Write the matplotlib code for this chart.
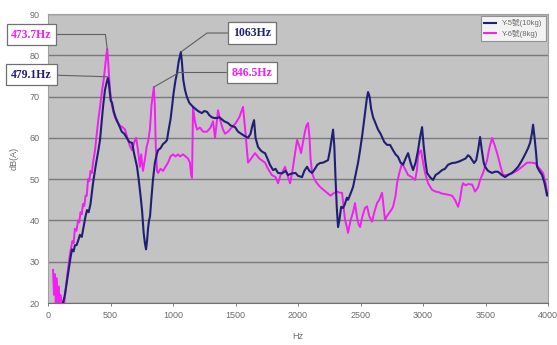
import numpy as np
import matplotlib
matplotlib.use("Agg")
import matplotlib.pyplot as plt

plt.rcParams['font.family'] = ['Liberation Sans', 'Noto Sans CJK TC', 'DejaVu Sans']

# --- data (Hz, dB(A)) ---
y5_points = [
    (120, 20), (135, 22), (150, 25), (165, 28), (180, 31), (192, 33), (205, 32.5), (215, 34),
    (228, 34), (240, 35), (255, 36.5), (270, 36), (285, 38.5), (300, 41), (312, 42.5), (325, 42),
    (340, 44), (360, 49), (380, 53), (400, 56.5), (416, 59.5), (430, 64), (440, 67.5), (455, 71.5),
    (466, 73), (479, 74.5), (486, 73.5), (494, 71), (502, 69), (512, 68.5), (525, 66.5), (540, 65),
    (560, 63.6), (575, 62.5), (590, 61.5), (610, 61), (630, 60), (650, 59), (672, 58.8), (690, 56),
    (712, 53), (725, 50), (740, 46), (752, 42.5), (765, 37), (775, 34.5), (784, 33), (792, 35),
    (800, 38), (808, 40), (816, 41), (826, 45), (840, 50), (855, 54), (870, 56), (880, 57),
    (900, 57.5), (920, 58.5), (940, 59), (952, 59.5), (965, 62), (980, 64.5), (992, 67.5),
    (1005, 71), (1020, 74), (1032, 75.7), (1045, 78.5), (1063, 80.8), (1072, 78), (1082, 74),
    (1096, 71.6), (1110, 70), (1130, 68.5), (1160, 67.5), (1180, 67), (1200, 66.5), (1230, 66),
    (1250, 66.5), (1272, 66.3), (1290, 65.5), (1310, 65), (1330, 64.8), (1352, 64.8), (1370, 65),
    (1390, 64.5), (1410, 64), (1440, 63.6), (1460, 63), (1480, 62.8), (1496, 62.6), (1520, 61.5),
    (1545, 61), (1570, 60.5), (1600, 60), (1620, 61), (1635, 63), (1648, 64.3), (1660, 60),
    (1680, 57.8), (1700, 57), (1720, 56.5), (1736, 56.3), (1755, 55), (1775, 53.5), (1800, 52.2),
    (1820, 52.5), (1840, 51.5), (1872, 51.4), (1900, 52), (1920, 51), (1952, 51.4), (1980, 51.5),
    (2000, 50.8), (2032, 50.5), (2050, 52), (2072, 53), (2090, 52), (2112, 51.5), (2135, 52.5),
    (2155, 53.5), (2176, 53.9), (2200, 54), (2220, 54.3), (2240, 54.6), (2255, 57), (2270, 60),
    (2280, 62), (2290, 58), (2300, 50), (2310, 43), (2320, 38.4), (2330, 40), (2345, 43.3),
    (2360, 43), (2375, 44), (2390, 45.5), (2400, 45), (2420, 46.5), (2440, 48.1), (2460, 51),
    (2480, 54), (2496, 57), (2515, 61), (2536, 66), (2550, 69.5), (2560, 71.1), (2572, 70),
    (2585, 67), (2600, 65), (2620, 63.5), (2640, 62), (2660, 61), (2672, 60.2), (2690, 59),
    (2712, 58.3), (2736, 58.3), (2760, 57), (2780, 56), (2800, 55.4), (2820, 54), (2840, 53.5),
    (2860, 55), (2880, 56.3), (2900, 54), (2920, 52.2), (2940, 54), (2960, 57), (2975, 60),
    (2992, 62.6), (3005, 58), (3020, 54), (3032, 51.5), (3055, 50.5), (3080, 49.8), (3100, 51),
    (3125, 51.5), (3152, 52.2), (3175, 52.5), (3200, 53.5), (3232, 53.9), (3260, 54), (3290, 54.3),
    (3312, 54.6), (3340, 55), (3360, 55.8), (3376, 55.4), (3395, 54.5), (3408, 53.9), (3425, 54.6),
    (3440, 57), (3456, 60.2), (3470, 57), (3485, 54), (3496, 53), (3520, 52), (3552, 51.5),
    (3575, 51.8), (3600, 51.8), (3630, 51), (3656, 50.5), (3680, 51), (3710, 51.5), (3736, 52.2),
    (3760, 53), (3790, 54.5), (3816, 56), (3840, 57.5), (3856, 58.8), (3870, 61), (3880, 63.2),
    (3892, 60), (3905, 56), (3912, 53), (3930, 52), (3952, 51), (3972, 49), (3992, 46), (4000, 46.5),
]

y6_points = [
    (40, 28), (48, 22), (55, 27), (62, 20), (70, 26), (78, 20), (85, 24), (92, 20), (100, 22),
    (110, 20), (130, 20), (140, 23), (155, 27), (176, 32), (195, 35), (205, 34.5), (215, 38),
    (228, 37.5), (240, 40), (250, 39.5), (260, 42), (270, 41.5), (280, 44), (290, 43.5), (300, 46),
    (310, 46), (320, 50), (330, 49.5), (340, 52), (350, 51.5), (360, 54), (376, 57), (390, 61),
    (405, 65), (416, 67.5), (430, 71), (445, 74), (456, 77), (466, 80), (473.7, 81.5), (480, 79),
    (488, 75), (496, 71.6), (510, 68), (525, 66), (536, 65), (550, 64), (575, 63), (600, 62.5),
    (616, 62), (635, 60), (655, 58), (672, 57), (690, 59), (705, 60), (720, 57), (735, 53),
    (745, 56), (760, 52), (776, 55), (790, 58), (800, 59), (815, 62), (828, 68), (846.5, 72.3),
    (854, 68), (862, 58), (872, 52), (880, 51.5), (900, 52.5), (920, 52), (940, 53), (960, 54),
    (980, 55.5), (1000, 56), (1020, 55.5), (1040, 56), (1056, 55.5), (1080, 56), (1100, 55.5),
    (1120, 55), (1135, 54), (1145, 51), (1152, 50.3), (1160, 67.5), (1175, 64), (1192, 62),
    (1215, 62.5), (1240, 61.5), (1272, 61.5), (1300, 62.5), (1320, 64), (1336, 60), (1350, 64),
    (1360, 66.7), (1380, 64), (1400, 62), (1416, 61), (1440, 61.5), (1472, 62.6), (1500, 63.5),
    (1530, 65), (1560, 67.5), (1580, 61), (1600, 54), (1625, 55), (1656, 56.3), (1690, 55),
    (1736, 54), (1760, 52.5), (1790, 51), (1820, 50.5), (1840, 49), (1860, 51), (1880, 52),
    (1896, 53), (1915, 51), (1936, 49), (1955, 52), (1975, 56), (1992, 59.5), (2010, 58),
    (2024, 56.3), (2040, 59), (2055, 61.5), (2068, 63), (2080, 63.6), (2092, 60), (2100, 55),
    (2112, 51.5), (2130, 50), (2152, 49), (2180, 48), (2200, 47.5), (2232, 46.7), (2260, 46),
    (2280, 46.5), (2310, 47), (2335, 46.7), (2352, 46.7), (2365, 43), (2376, 40.1), (2390, 38.5),
    (2400, 37), (2420, 40), (2440, 42), (2456, 44.2), (2470, 41), (2485, 39), (2496, 38.4),
    (2515, 41), (2535, 43), (2552, 43.4), (2570, 41), (2592, 39.7), (2610, 42), (2632, 44.2),
    (2650, 45), (2672, 46.7), (2685, 43), (2696, 40.1), (2710, 41), (2728, 41.8), (2745, 42.5),
    (2760, 43.3), (2780, 46), (2792, 49), (2810, 51.5), (2832, 53.9), (2855, 52.5), (2880, 51),
    (2910, 50.5), (2936, 49.8), (2950, 52), (2960, 55.4), (2970, 56.5), (2984, 57), (3000, 54),
    (3016, 51.5), (3040, 49), (3072, 47.4), (3100, 47), (3130, 46.8), (3152, 46.5), (3190, 46.3),
    (3232, 46), (3255, 45), (3280, 43.3), (3295, 45), (3310, 48), (3320, 49), (3340, 48.5),
    (3360, 48.8), (3392, 48.7), (3416, 47), (3440, 48), (3456, 49.8), (3480, 51.5), (3512, 54.6),
    (3530, 57.5), (3552, 60), (3575, 58), (3600, 55.5), (3620, 53), (3640, 51), (3670, 51),
    (3712, 51.4), (3750, 52), (3792, 53), (3832, 54), (3860, 54), (3896, 53.9), (3936, 52.4),
    (3960, 51.5), (3980, 49), (3992, 47), (4000, 46),
]

series_names = ["Y-5號(10kg)", "Y-6號(8kg)"]
series_colors = ["#1f1f75", "#f21ef2"]

# peak labels: (text, Hz, dB, colour index)
peak_labels = [
    ("473.7Hz", 473.7, 81.5, 1),
    ("479.1Hz", 479.1, 74.8, 0),
    ("1063Hz", 1063, 80.8, 0),
    ("846.5Hz", 846.5, 72.3, 1),
]

x_ticks = np.arange(0, 4001, 500)
y_ticks = np.arange(20, 91, 10)

y5_hz, y5_db = np.array(y5_points).T
y6_hz, y6_db = np.array(y6_points).T

fig = plt.figure(figsize=(5.57, 3.45), dpi=100)
ax = fig.add_axes([0.0862, 0.1217, 0.8978, 0.8377])
ax.set_facecolor("#c3c3c3")

ax.plot(y5_hz, y5_db, color=series_colors[0], lw=1.5, label=series_names[0], zorder=3)
ax.plot(y6_hz, y6_db, color=series_colors[1], lw=1.4, label=series_names[1], zorder=2)

ax.set_xlim(0, 4000)
ax.set_ylim(20, 90)
ax.set_xticks(x_ticks)
ax.set_yticks(y_ticks)
ax.yaxis.grid(True, color="#7a7a7a", lw=1)
ax.set_axisbelow(True)
ax.tick_params(labelsize=6.5, colors="#6a6a6a", length=2, width=0.6)
ax.tick_params(axis="y", length=0, pad=6)
for side in ["left", "right", "top"]:
    ax.spines[side].set_color("#a0a0a0")
ax.spines["bottom"].set_color("#707070")

ax.set_xlabel("Hz", fontsize=6.5, color="#6a6a6a", labelpad=9)
ax.set_ylabel("dB(A)", fontsize=6.5, color="#6a6a6a", labelpad=8)

leg = ax.legend(loc="upper right", fontsize=5.5, frameon=True, fancybox=False,
                handlelength=1.6, borderaxespad=0.3, labelspacing=0.3, borderpad=0.4)
leg.get_frame().set_edgecolor("#808080")
leg.get_frame().set_linewidth(0.8)
for t in leg.get_texts():
    t.set_color("#6a6a6a")

# label boxes in figure pixels and the leader line shapes
box_pos = [(31.5, 310.5), (31.5, 270.5), (252, 312), (252, 272.5)]
leaders = [
    "angle,angleA=0,angleB=97,rad=0",
    "arc3,rad=0",
    "angle,angleA=0,angleB=36,rad=0",
    "angle,angleA=0,angleB=30,rad=0",
]
for (txt, hz, db, ci), pos, cs in zip(peak_labels, box_pos, leaders):
    ax.annotate(txt, xy=(hz, db), xycoords="data",
                xytext=pos, textcoords="figure pixels",
                ha="center", va="center", fontsize=8.5, fontweight="bold",
                family="Liberation Serif", color=series_colors[ci],
                bbox=dict(boxstyle="square,pad=0.4", fc="white", ec="#707070", lw=0.9),
                arrowprops=dict(arrowstyle="-", color="#606060", lw=0.8,
                                connectionstyle=cs, shrinkA=0, shrinkB=0),
                annotation_clip=False, zorder=5)

fig.savefig("out.png", dpi=100)
